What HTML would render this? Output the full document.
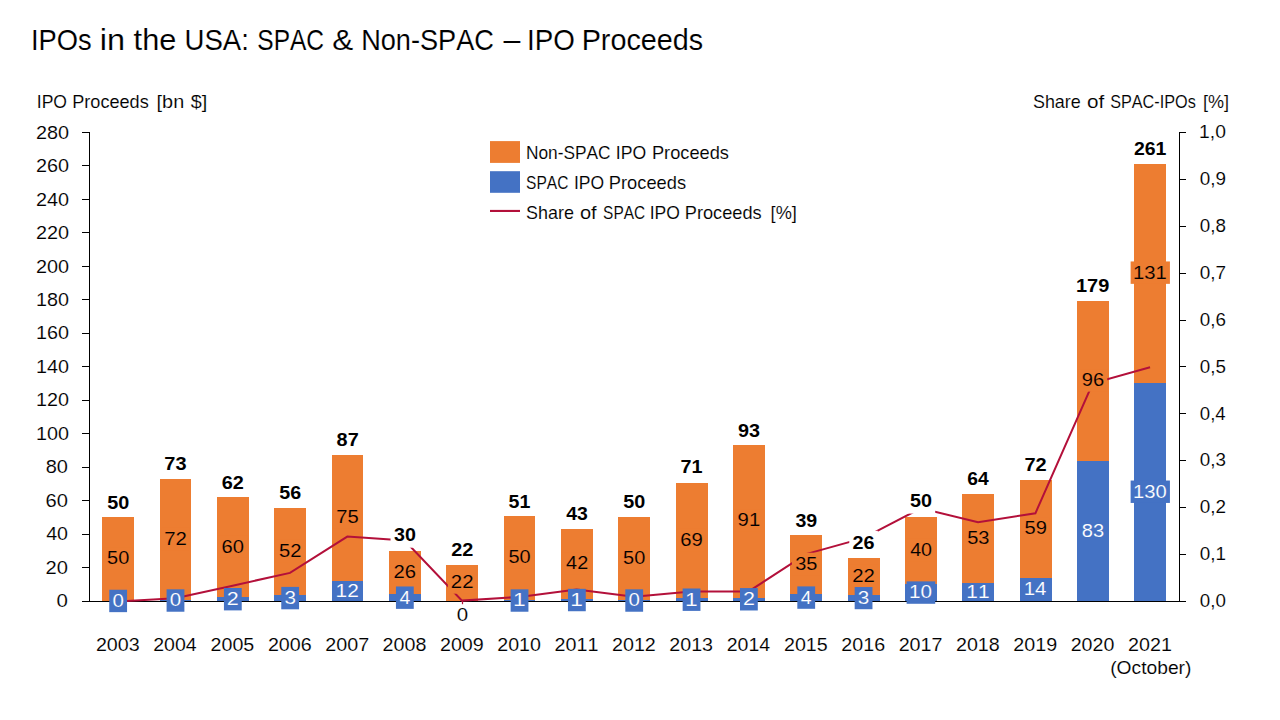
<!DOCTYPE html><html><head><meta charset="utf-8"><style>html,body{margin:0;padding:0;background:#fff;}svg{display:block;font-family:"Liberation Sans", sans-serif;font-kerning:none;}text{font-kerning:none;}</style></head><body>
<svg width="1280" height="720" viewBox="0 0 1280 720">
<rect x="0" y="0" width="1280" height="720" fill="#fff"/>
<text x="30.88" y="49.75" font-size="29.94" textLength="60.71" lengthAdjust="spacingAndGlyphs" fill="#000" stroke="#fff" stroke-width="0.12">IPOs</text>
<text x="99.73" y="49.75" font-size="29.94" textLength="25.28" lengthAdjust="spacingAndGlyphs" fill="#000" stroke="#fff" stroke-width="0.12">in</text>
<text x="133.63" y="49.75" font-size="29.94" textLength="42.73" lengthAdjust="spacingAndGlyphs" fill="#000" stroke="#fff" stroke-width="0.12">the</text>
<text x="184.47" y="49.75" font-size="29.94" textLength="64.34" lengthAdjust="spacingAndGlyphs" fill="#000" stroke="#fff" stroke-width="0.12">USA:</text>
<text x="257.29" y="49.75" font-size="29.94" textLength="66.75" lengthAdjust="spacingAndGlyphs" fill="#000" stroke="#fff" stroke-width="0.12">SPAC</text>
<text x="332.3" y="49.75" font-size="29.94" textLength="20.94" lengthAdjust="spacingAndGlyphs" fill="#000" stroke="#fff" stroke-width="0.12">&amp;</text>
<text x="361.17" y="49.75" font-size="29.94" textLength="132.76" lengthAdjust="spacingAndGlyphs" fill="#000" stroke="#fff" stroke-width="0.12">Non-SPAC</text>
<text x="503.4" y="49.75" font-size="29.94" textLength="16.86" lengthAdjust="spacingAndGlyphs" fill="#000" stroke="#fff" stroke-width="0.12">–</text>
<text x="527.04" y="49.75" font-size="29.94" textLength="47.79" lengthAdjust="spacingAndGlyphs" fill="#000" stroke="#fff" stroke-width="0.12">IPO</text>
<text x="581.64" y="49.75" font-size="29.94" textLength="121.5" lengthAdjust="spacingAndGlyphs" fill="#000" stroke="#fff" stroke-width="0.12">Proceeds</text>
<text x="36.78" y="107.8" font-size="18.18" textLength="30.26" lengthAdjust="spacingAndGlyphs" fill="#000" stroke="#fff" stroke-width="0.12">IPO</text>
<text x="72.21" y="107.8" font-size="18.18" textLength="76.54" lengthAdjust="spacingAndGlyphs" fill="#000" stroke="#fff" stroke-width="0.12">Proceeds</text>
<text x="156.58" y="107.8" font-size="18.18" textLength="27.61" lengthAdjust="spacingAndGlyphs" fill="#000" stroke="#fff" stroke-width="0.12">[bn</text>
<text x="190.79" y="107.8" font-size="18.18" textLength="16.53" lengthAdjust="spacingAndGlyphs" fill="#000" stroke="#fff" stroke-width="0.12">$]</text>
<text x="1032.94" y="107.7" font-size="18.33" textLength="47.86" lengthAdjust="spacingAndGlyphs" fill="#000" stroke="#fff" stroke-width="0.12">Share</text>
<text x="1086.93" y="107.7" font-size="18.33" textLength="17.24" lengthAdjust="spacingAndGlyphs" fill="#000" stroke="#fff" stroke-width="0.12">of</text>
<text x="1110.16" y="107.7" font-size="18.33" textLength="85.62" lengthAdjust="spacingAndGlyphs" fill="#000" stroke="#fff" stroke-width="0.12">SPAC-IPOs</text>
<text x="1202.91" y="107.7" font-size="18.33" textLength="26.07" lengthAdjust="spacingAndGlyphs" fill="#000" stroke="#fff" stroke-width="0.12">[%]</text>
<text x="56.6" y="607.25" font-size="18.33" textLength="11.4" lengthAdjust="spacingAndGlyphs" fill="#000" stroke="#fff" stroke-width="0.12">0</text>
<text x="45.59" y="573.78" font-size="18.33" textLength="22.4" lengthAdjust="spacingAndGlyphs" fill="#000" stroke="#fff" stroke-width="0.12">20</text>
<text x="46.15" y="540.31" font-size="18.33" textLength="21.82" lengthAdjust="spacingAndGlyphs" fill="#000" stroke="#fff" stroke-width="0.12">40</text>
<text x="45.58" y="506.84" font-size="18.33" textLength="22.41" lengthAdjust="spacingAndGlyphs" fill="#000" stroke="#fff" stroke-width="0.12">60</text>
<text x="45.73" y="473.36" font-size="18.33" textLength="22.25" lengthAdjust="spacingAndGlyphs" fill="#000" stroke="#fff" stroke-width="0.12">80</text>
<text x="36.09" y="439.89" font-size="18.33" textLength="32.98" lengthAdjust="spacingAndGlyphs" fill="#000" stroke="#fff" stroke-width="0.12">100</text>
<text x="36.09" y="406.42" font-size="18.33" textLength="32.98" lengthAdjust="spacingAndGlyphs" fill="#000" stroke="#fff" stroke-width="0.12">120</text>
<text x="36.09" y="372.95" font-size="18.33" textLength="32.98" lengthAdjust="spacingAndGlyphs" fill="#000" stroke="#fff" stroke-width="0.12">140</text>
<text x="36.09" y="339.48" font-size="18.33" textLength="32.98" lengthAdjust="spacingAndGlyphs" fill="#000" stroke="#fff" stroke-width="0.12">160</text>
<text x="36.09" y="306.01" font-size="18.33" textLength="32.98" lengthAdjust="spacingAndGlyphs" fill="#000" stroke="#fff" stroke-width="0.12">180</text>
<text x="36" y="272.54" font-size="18.33" textLength="33.07" lengthAdjust="spacingAndGlyphs" fill="#000" stroke="#fff" stroke-width="0.12">200</text>
<text x="36" y="239.06" font-size="18.33" textLength="33.07" lengthAdjust="spacingAndGlyphs" fill="#000" stroke="#fff" stroke-width="0.12">220</text>
<text x="36" y="205.59" font-size="18.33" textLength="33.07" lengthAdjust="spacingAndGlyphs" fill="#000" stroke="#fff" stroke-width="0.12">240</text>
<text x="36" y="172.12" font-size="18.33" textLength="33.07" lengthAdjust="spacingAndGlyphs" fill="#000" stroke="#fff" stroke-width="0.12">260</text>
<text x="36" y="138.65" font-size="18.33" textLength="33.07" lengthAdjust="spacingAndGlyphs" fill="#000" stroke="#fff" stroke-width="0.12">280</text>
<text x="1199.87" y="607" font-size="18.76" textLength="26.06" lengthAdjust="spacingAndGlyphs" fill="#000" stroke="#fff" stroke-width="0.12">0,0</text>
<text x="1199.86" y="560.14" font-size="18.76" textLength="26.26" lengthAdjust="spacingAndGlyphs" fill="#000" stroke="#fff" stroke-width="0.12">0,1</text>
<text x="1199.86" y="513.28" font-size="18.76" textLength="26.29" lengthAdjust="spacingAndGlyphs" fill="#000" stroke="#fff" stroke-width="0.12">0,2</text>
<text x="1199.86" y="466.42" font-size="18.76" textLength="26.16" lengthAdjust="spacingAndGlyphs" fill="#000" stroke="#fff" stroke-width="0.12">0,3</text>
<text x="1199.87" y="419.56" font-size="18.76" textLength="25.87" lengthAdjust="spacingAndGlyphs" fill="#000" stroke="#fff" stroke-width="0.12">0,4</text>
<text x="1199.87" y="372.7" font-size="18.76" textLength="26.12" lengthAdjust="spacingAndGlyphs" fill="#000" stroke="#fff" stroke-width="0.12">0,5</text>
<text x="1199.86" y="325.84" font-size="18.76" textLength="26.16" lengthAdjust="spacingAndGlyphs" fill="#000" stroke="#fff" stroke-width="0.12">0,6</text>
<text x="1199.86" y="278.98" font-size="18.76" textLength="26.29" lengthAdjust="spacingAndGlyphs" fill="#000" stroke="#fff" stroke-width="0.12">0,7</text>
<text x="1199.87" y="232.12" font-size="18.76" textLength="26.15" lengthAdjust="spacingAndGlyphs" fill="#000" stroke="#fff" stroke-width="0.12">0,8</text>
<text x="1199.86" y="185.26" font-size="18.76" textLength="26.23" lengthAdjust="spacingAndGlyphs" fill="#000" stroke="#fff" stroke-width="0.12">0,9</text>
<text x="1199.13" y="138.4" font-size="18.76" textLength="26.82" lengthAdjust="spacingAndGlyphs" fill="#000" stroke="#fff" stroke-width="0.12">1,0</text>
<text x="95.91" y="650.8" font-size="18.61" textLength="43.75" lengthAdjust="spacingAndGlyphs" fill="#000" stroke="#fff" stroke-width="0.12">2003</text>
<text x="153.26" y="650.8" font-size="18.61" textLength="43.45" lengthAdjust="spacingAndGlyphs" fill="#000" stroke="#fff" stroke-width="0.12">2004</text>
<text x="210.59" y="650.8" font-size="18.61" textLength="43.71" lengthAdjust="spacingAndGlyphs" fill="#000" stroke="#fff" stroke-width="0.12">2005</text>
<text x="267.93" y="650.8" font-size="18.61" textLength="43.75" lengthAdjust="spacingAndGlyphs" fill="#000" stroke="#fff" stroke-width="0.12">2006</text>
<text x="325.27" y="650.8" font-size="18.61" textLength="43.88" lengthAdjust="spacingAndGlyphs" fill="#000" stroke="#fff" stroke-width="0.12">2007</text>
<text x="382.61" y="650.8" font-size="18.61" textLength="43.74" lengthAdjust="spacingAndGlyphs" fill="#000" stroke="#fff" stroke-width="0.12">2008</text>
<text x="439.95" y="650.8" font-size="18.61" textLength="43.82" lengthAdjust="spacingAndGlyphs" fill="#000" stroke="#fff" stroke-width="0.12">2009</text>
<text x="497.29" y="650.8" font-size="18.61" textLength="43.65" lengthAdjust="spacingAndGlyphs" fill="#000" stroke="#fff" stroke-width="0.12">2010</text>
<text x="554.63" y="650.8" font-size="18.61" textLength="43.85" lengthAdjust="spacingAndGlyphs" fill="#000" stroke="#fff" stroke-width="0.12">2011</text>
<text x="611.97" y="650.8" font-size="18.61" textLength="43.88" lengthAdjust="spacingAndGlyphs" fill="#000" stroke="#fff" stroke-width="0.12">2012</text>
<text x="669.31" y="650.8" font-size="18.61" textLength="43.75" lengthAdjust="spacingAndGlyphs" fill="#000" stroke="#fff" stroke-width="0.12">2013</text>
<text x="726.66" y="650.8" font-size="18.61" textLength="43.45" lengthAdjust="spacingAndGlyphs" fill="#000" stroke="#fff" stroke-width="0.12">2014</text>
<text x="783.99" y="650.8" font-size="18.61" textLength="43.71" lengthAdjust="spacingAndGlyphs" fill="#000" stroke="#fff" stroke-width="0.12">2015</text>
<text x="841.33" y="650.8" font-size="18.61" textLength="43.75" lengthAdjust="spacingAndGlyphs" fill="#000" stroke="#fff" stroke-width="0.12">2016</text>
<text x="898.67" y="650.8" font-size="18.61" textLength="43.88" lengthAdjust="spacingAndGlyphs" fill="#000" stroke="#fff" stroke-width="0.12">2017</text>
<text x="956.01" y="650.8" font-size="18.61" textLength="43.74" lengthAdjust="spacingAndGlyphs" fill="#000" stroke="#fff" stroke-width="0.12">2018</text>
<text x="1013.35" y="650.8" font-size="18.61" textLength="43.82" lengthAdjust="spacingAndGlyphs" fill="#000" stroke="#fff" stroke-width="0.12">2019</text>
<text x="1070.69" y="650.8" font-size="18.61" textLength="43.65" lengthAdjust="spacingAndGlyphs" fill="#000" stroke="#fff" stroke-width="0.12">2020</text>
<text x="1128.03" y="650.8" font-size="18.61" textLength="43.85" lengthAdjust="spacingAndGlyphs" fill="#000" stroke="#fff" stroke-width="0.12">2021</text>
<text x="1110.21" y="673.7" font-size="18.47" textLength="81.18" lengthAdjust="spacingAndGlyphs" fill="#000" stroke="#fff" stroke-width="0.12">(October)</text>
<rect x="102" y="517" width="32" height="84" fill="#ED7D31"/>
<rect x="160" y="479" width="31" height="121" fill="#ED7D31"/>
<rect x="160" y="600" width="31" height="1" fill="#4472C4"/>
<rect x="217" y="497" width="32" height="100" fill="#ED7D31"/>
<rect x="217" y="597" width="32" height="4" fill="#4472C4"/>
<rect x="274" y="508" width="32" height="87" fill="#ED7D31"/>
<rect x="274" y="595" width="32" height="6" fill="#4472C4"/>
<rect x="332" y="455" width="31" height="126" fill="#ED7D31"/>
<rect x="332" y="581" width="31" height="20" fill="#4472C4"/>
<rect x="389" y="551" width="32" height="43" fill="#ED7D31"/>
<rect x="389" y="594" width="32" height="7" fill="#4472C4"/>
<rect x="446" y="565" width="32" height="36" fill="#ED7D31"/>
<rect x="504" y="516" width="31" height="84" fill="#ED7D31"/>
<rect x="504" y="600" width="31" height="1" fill="#4472C4"/>
<rect x="561" y="529" width="32" height="70" fill="#ED7D31"/>
<rect x="561" y="599" width="32" height="2" fill="#4472C4"/>
<rect x="618" y="517" width="32" height="83" fill="#ED7D31"/>
<rect x="618" y="600" width="32" height="1" fill="#4472C4"/>
<rect x="676" y="483" width="32" height="115" fill="#ED7D31"/>
<rect x="676" y="598" width="32" height="3" fill="#4472C4"/>
<rect x="733" y="445" width="32" height="153" fill="#ED7D31"/>
<rect x="733" y="598" width="32" height="3" fill="#4472C4"/>
<rect x="790" y="535" width="32" height="59" fill="#ED7D31"/>
<rect x="790" y="594" width="32" height="7" fill="#4472C4"/>
<rect x="848" y="558" width="32" height="37" fill="#ED7D31"/>
<rect x="848" y="595" width="32" height="6" fill="#4472C4"/>
<rect x="905" y="517" width="32" height="67" fill="#ED7D31"/>
<rect x="905" y="584" width="32" height="17" fill="#4472C4"/>
<rect x="962" y="494" width="32" height="89" fill="#ED7D31"/>
<rect x="962" y="583" width="32" height="18" fill="#4472C4"/>
<rect x="1020" y="480" width="32" height="98" fill="#ED7D31"/>
<rect x="1020" y="578" width="32" height="23" fill="#4472C4"/>
<rect x="1077" y="301" width="32" height="160" fill="#ED7D31"/>
<rect x="1077" y="461" width="32" height="140" fill="#4472C4"/>
<rect x="1134" y="164" width="32" height="219" fill="#ED7D31"/>
<rect x="1134" y="383" width="32" height="218" fill="#4472C4"/>
<rect x="89" y="132" width="1" height="470" fill="#000"/>
<rect x="1179" y="132" width="1" height="470" fill="#000"/>
<rect x="82" y="601" width="1104" height="1" fill="#000"/>
<rect x="82" y="132" width="7" height="1" fill="#000"/>
<rect x="82" y="165" width="7" height="1" fill="#000"/>
<rect x="82" y="199" width="7" height="1" fill="#000"/>
<rect x="82" y="232" width="7" height="1" fill="#000"/>
<rect x="82" y="266" width="7" height="1" fill="#000"/>
<rect x="82" y="299" width="7" height="1" fill="#000"/>
<rect x="82" y="333" width="7" height="1" fill="#000"/>
<rect x="82" y="366" width="7" height="1" fill="#000"/>
<rect x="82" y="400" width="7" height="1" fill="#000"/>
<rect x="82" y="433" width="7" height="1" fill="#000"/>
<rect x="82" y="467" width="7" height="1" fill="#000"/>
<rect x="82" y="500" width="7" height="1" fill="#000"/>
<rect x="82" y="534" width="7" height="1" fill="#000"/>
<rect x="82" y="567" width="7" height="1" fill="#000"/>
<rect x="82" y="601" width="7" height="1" fill="#000"/>
<rect x="1180" y="132" width="6" height="1" fill="#000"/>
<rect x="1180" y="179" width="6" height="1" fill="#000"/>
<rect x="1180" y="226" width="6" height="1" fill="#000"/>
<rect x="1180" y="273" width="6" height="1" fill="#000"/>
<rect x="1180" y="320" width="6" height="1" fill="#000"/>
<rect x="1180" y="366" width="6" height="1" fill="#000"/>
<rect x="1180" y="413" width="6" height="1" fill="#000"/>
<rect x="1180" y="460" width="6" height="1" fill="#000"/>
<rect x="1180" y="507" width="6" height="1" fill="#000"/>
<rect x="1180" y="554" width="6" height="1" fill="#000"/>
<rect x="1180" y="601" width="6" height="1" fill="#000"/>
<polyline points="117.95,601.5 175.29,598.28 232.63,585.67 289.97,572.87 347.31,536.57 404.65,540.53 461.99,600.62 519.33,596.89 576.67,589.53 634.01,596.84 691.35,591.54 748.69,591.46 806.03,554.13 863.37,538.12 920.71,508.26 978.05,522.23 1035.39,513.28 1092.73,383.35 1150.07,367.18" fill="none" stroke="#B3103A" stroke-width="2.0" stroke-linejoin="miter" stroke-miterlimit="10"/>
<rect x="461.9" y="601" width="1.2" height="3.2" fill="#B3103A"/>
<rect x="109.25" y="589.75" width="17.8" height="22.4" fill="#4472C4"/>
<text x="112.45" y="606.85" font-size="18.33" textLength="11.4" lengthAdjust="spacingAndGlyphs" fill="#fff" stroke="#4472C4" stroke-width="0.12">0</text>
<rect x="103.85" y="547.21" width="28.6" height="22.4" fill="#ED7D31"/>
<text x="107.05" y="564.31" font-size="18.33" textLength="22.18" lengthAdjust="spacingAndGlyphs" fill="#000" stroke="#ED7D31" stroke-width="0.12">50</text>
<rect x="103.85" y="490.8" width="28.6" height="24.1" fill="#fff"/>
<text x="107.24" y="508.6" font-size="18.76" textLength="22.02" lengthAdjust="spacingAndGlyphs" font-weight="bold" fill="#000">50</text>
<rect x="166.59" y="589.33" width="17.8" height="22.4" fill="#4472C4"/>
<text x="169.79" y="606.43" font-size="18.33" textLength="11.4" lengthAdjust="spacingAndGlyphs" fill="#fff" stroke="#4472C4" stroke-width="0.12">0</text>
<rect x="161.19" y="527.78" width="28.6" height="22.4" fill="#ED7D31"/>
<text x="164.15" y="544.88" font-size="18.33" textLength="22.67" lengthAdjust="spacingAndGlyphs" fill="#000" stroke="#ED7D31" stroke-width="0.12">72</text>
<rect x="161.19" y="451.9" width="28.6" height="24.1" fill="#fff"/>
<text x="164.33" y="469.7" font-size="18.76" textLength="22.18" lengthAdjust="spacingAndGlyphs" font-weight="bold" fill="#000">73</text>
<rect x="223.93" y="587.99" width="17.8" height="22.4" fill="#4472C4"/>
<text x="226.85" y="605.09" font-size="18.33" textLength="11.96" lengthAdjust="spacingAndGlyphs" fill="#fff" stroke="#4472C4" stroke-width="0.12">2</text>
<rect x="218.53" y="535.4" width="28.6" height="22.4" fill="#ED7D31"/>
<text x="221.51" y="552.5" font-size="18.33" textLength="22.41" lengthAdjust="spacingAndGlyphs" fill="#000" stroke="#ED7D31" stroke-width="0.12">60</text>
<rect x="218.53" y="470.7" width="28.6" height="24.1" fill="#fff"/>
<text x="221.8" y="488.5" font-size="18.76" textLength="22.12" lengthAdjust="spacingAndGlyphs" font-weight="bold" fill="#000">62</text>
<rect x="281.27" y="586.9" width="17.8" height="22.4" fill="#4472C4"/>
<text x="284.48" y="604" font-size="18.33" textLength="11.5" lengthAdjust="spacingAndGlyphs" fill="#fff" stroke="#4472C4" stroke-width="0.12">3</text>
<rect x="275.87" y="539.75" width="28.6" height="22.4" fill="#ED7D31"/>
<text x="279.06" y="556.85" font-size="18.33" textLength="22.42" lengthAdjust="spacingAndGlyphs" fill="#000" stroke="#ED7D31" stroke-width="0.12">52</text>
<rect x="275.87" y="481" width="28.6" height="24.1" fill="#fff"/>
<text x="279.26" y="498.8" font-size="18.76" textLength="21.92" lengthAdjust="spacingAndGlyphs" font-weight="bold" fill="#000">56</text>
<text x="335.62" y="596.72" font-size="18.33" textLength="23.24" lengthAdjust="spacingAndGlyphs" fill="#fff" stroke="#4472C4" stroke-width="0.12">12</text>
<rect x="333.21" y="505.92" width="28.6" height="22.4" fill="#ED7D31"/>
<text x="336.17" y="523.02" font-size="18.33" textLength="22.49" lengthAdjust="spacingAndGlyphs" fill="#000" stroke="#ED7D31" stroke-width="0.12">75</text>
<rect x="333.21" y="427.8" width="28.6" height="24.1" fill="#fff"/>
<text x="336.58" y="445.6" font-size="18.76" textLength="22.1" lengthAdjust="spacingAndGlyphs" font-weight="bold" fill="#000">87</text>
<rect x="395.95" y="586.48" width="17.8" height="22.4" fill="#4472C4"/>
<text x="399.5" y="603.58" font-size="18.33" textLength="10.82" lengthAdjust="spacingAndGlyphs" fill="#fff" stroke="#4472C4" stroke-width="0.12">4</text>
<rect x="390.55" y="560.86" width="28.6" height="22.4" fill="#ED7D31"/>
<text x="393.53" y="577.96" font-size="18.33" textLength="22.51" lengthAdjust="spacingAndGlyphs" fill="#000" stroke="#ED7D31" stroke-width="0.12">26</text>
<rect x="390.55" y="523.6" width="28.6" height="24.1" fill="#fff"/>
<text x="394.1" y="541.4" font-size="18.76" textLength="21.86" lengthAdjust="spacingAndGlyphs" font-weight="bold" fill="#000">30</text>
<text x="456.79" y="620.85" font-size="18.33" textLength="11.4" lengthAdjust="spacingAndGlyphs" fill="#000" stroke="#fff" stroke-width="0.12">0</text>
<rect x="447.89" y="571.29" width="28.6" height="22.4" fill="#ED7D31"/>
<text x="450.87" y="588.39" font-size="18.33" textLength="22.65" lengthAdjust="spacingAndGlyphs" fill="#000" stroke="#ED7D31" stroke-width="0.12">22</text>
<rect x="447.89" y="538.3" width="28.6" height="24.1" fill="#fff"/>
<text x="451.2" y="556.1" font-size="18.76" textLength="22.08" lengthAdjust="spacingAndGlyphs" font-weight="bold" fill="#000">22</text>
<rect x="510.63" y="589.33" width="17.8" height="22.4" fill="#4472C4"/>
<text x="512.9" y="606.43" font-size="18.33" textLength="12.64" lengthAdjust="spacingAndGlyphs" fill="#fff" stroke="#4472C4" stroke-width="0.12">1</text>
<rect x="505.23" y="546.2" width="28.6" height="22.4" fill="#ED7D31"/>
<text x="508.43" y="563.3" font-size="18.33" textLength="22.18" lengthAdjust="spacingAndGlyphs" fill="#000" stroke="#ED7D31" stroke-width="0.12">50</text>
<rect x="505.23" y="490.2" width="28.6" height="24.1" fill="#fff"/>
<text x="508.63" y="508" font-size="18.76" textLength="21.75" lengthAdjust="spacingAndGlyphs" font-weight="bold" fill="#000">51</text>
<rect x="567.97" y="588.83" width="17.8" height="22.4" fill="#4472C4"/>
<text x="570.24" y="605.93" font-size="18.33" textLength="12.64" lengthAdjust="spacingAndGlyphs" fill="#fff" stroke="#4472C4" stroke-width="0.12">1</text>
<rect x="562.57" y="552.23" width="28.6" height="22.4" fill="#ED7D31"/>
<text x="566.12" y="569.33" font-size="18.33" textLength="22.05" lengthAdjust="spacingAndGlyphs" fill="#000" stroke="#ED7D31" stroke-width="0.12">42</text>
<rect x="562.57" y="502.2" width="28.6" height="24.1" fill="#fff"/>
<text x="566.28" y="520" font-size="18.76" textLength="21.6" lengthAdjust="spacingAndGlyphs" font-weight="bold" fill="#000">43</text>
<rect x="625.31" y="589.33" width="17.8" height="22.4" fill="#4472C4"/>
<text x="628.51" y="606.43" font-size="18.33" textLength="11.4" lengthAdjust="spacingAndGlyphs" fill="#fff" stroke="#4472C4" stroke-width="0.12">0</text>
<rect x="619.91" y="546.7" width="28.6" height="22.4" fill="#ED7D31"/>
<text x="623.11" y="563.8" font-size="18.33" textLength="22.18" lengthAdjust="spacingAndGlyphs" fill="#000" stroke="#ED7D31" stroke-width="0.12">50</text>
<rect x="619.91" y="490.2" width="28.6" height="24.1" fill="#fff"/>
<text x="623.3" y="508" font-size="18.76" textLength="22.02" lengthAdjust="spacingAndGlyphs" font-weight="bold" fill="#000">50</text>
<rect x="682.65" y="588.49" width="17.8" height="22.4" fill="#4472C4"/>
<text x="684.92" y="605.59" font-size="18.33" textLength="12.64" lengthAdjust="spacingAndGlyphs" fill="#fff" stroke="#4472C4" stroke-width="0.12">1</text>
<rect x="677.25" y="528.87" width="28.6" height="22.4" fill="#ED7D31"/>
<text x="680.22" y="545.97" font-size="18.33" textLength="22.59" lengthAdjust="spacingAndGlyphs" fill="#000" stroke="#ED7D31" stroke-width="0.12">69</text>
<rect x="677.25" y="455.6" width="28.6" height="24.1" fill="#fff"/>
<text x="680.4" y="473.4" font-size="18.76" textLength="22" lengthAdjust="spacingAndGlyphs" font-weight="bold" fill="#000">71</text>
<rect x="739.99" y="588.08" width="17.8" height="22.4" fill="#4472C4"/>
<text x="742.91" y="605.18" font-size="18.33" textLength="11.96" lengthAdjust="spacingAndGlyphs" fill="#fff" stroke="#4472C4" stroke-width="0.12">2</text>
<rect x="734.59" y="509.35" width="28.6" height="22.4" fill="#ED7D31"/>
<text x="737.64" y="526.45" font-size="18.33" textLength="22.54" lengthAdjust="spacingAndGlyphs" fill="#000" stroke="#ED7D31" stroke-width="0.12">91</text>
<rect x="734.59" y="419.1" width="28.6" height="24.1" fill="#fff"/>
<text x="737.9" y="436.9" font-size="18.76" textLength="22" lengthAdjust="spacingAndGlyphs" font-weight="bold" fill="#000">93</text>
<rect x="797.33" y="586.4" width="17.8" height="22.4" fill="#4472C4"/>
<text x="800.88" y="603.5" font-size="18.33" textLength="10.82" lengthAdjust="spacingAndGlyphs" fill="#fff" stroke="#4472C4" stroke-width="0.12">4</text>
<rect x="791.93" y="552.73" width="28.6" height="22.4" fill="#ED7D31"/>
<text x="795.17" y="569.83" font-size="18.33" textLength="22.2" lengthAdjust="spacingAndGlyphs" fill="#000" stroke="#ED7D31" stroke-width="0.12">35</text>
<rect x="791.93" y="508.8" width="28.6" height="24.1" fill="#fff"/>
<text x="795.48" y="526.6" font-size="18.76" textLength="21.78" lengthAdjust="spacingAndGlyphs" font-weight="bold" fill="#000">39</text>
<rect x="854.67" y="586.82" width="17.8" height="22.4" fill="#4472C4"/>
<text x="857.88" y="603.92" font-size="18.33" textLength="11.5" lengthAdjust="spacingAndGlyphs" fill="#fff" stroke="#4472C4" stroke-width="0.12">3</text>
<rect x="849.27" y="564.63" width="28.6" height="22.4" fill="#ED7D31"/>
<text x="852.25" y="581.73" font-size="18.33" textLength="22.65" lengthAdjust="spacingAndGlyphs" fill="#000" stroke="#ED7D31" stroke-width="0.12">22</text>
<rect x="849.27" y="530.8" width="28.6" height="24.1" fill="#fff"/>
<text x="852.58" y="548.6" font-size="18.76" textLength="22" lengthAdjust="spacingAndGlyphs" font-weight="bold" fill="#000">26</text>
<rect x="906.61" y="581.38" width="28.6" height="22.4" fill="#4472C4"/>
<text x="909.04" y="598.48" font-size="18.33" textLength="22.98" lengthAdjust="spacingAndGlyphs" fill="#fff" stroke="#4472C4" stroke-width="0.12">10</text>
<rect x="906.61" y="538.75" width="28.6" height="22.4" fill="#ED7D31"/>
<text x="910.16" y="555.85" font-size="18.33" textLength="21.82" lengthAdjust="spacingAndGlyphs" fill="#000" stroke="#ED7D31" stroke-width="0.12">40</text>
<rect x="906.61" y="489.5" width="28.6" height="24.1" fill="#fff"/>
<text x="910" y="507.3" font-size="18.76" textLength="22.02" lengthAdjust="spacingAndGlyphs" font-weight="bold" fill="#000">50</text>
<text x="966.36" y="597.8" font-size="18.33" textLength="23.21" lengthAdjust="spacingAndGlyphs" fill="#fff" stroke="#4472C4" stroke-width="0.12">11</text>
<rect x="963.95" y="526.69" width="28.6" height="22.4" fill="#ED7D31"/>
<text x="967.15" y="543.79" font-size="18.33" textLength="22.28" lengthAdjust="spacingAndGlyphs" fill="#000" stroke="#ED7D31" stroke-width="0.12">53</text>
<rect x="963.95" y="467.1" width="28.6" height="24.1" fill="#fff"/>
<text x="967.25" y="484.9" font-size="18.76" textLength="21.41" lengthAdjust="spacingAndGlyphs" font-weight="bold" fill="#000">64</text>
<text x="1023.73" y="595.46" font-size="18.33" textLength="22.76" lengthAdjust="spacingAndGlyphs" fill="#fff" stroke="#4472C4" stroke-width="0.12">14</text>
<rect x="1021.29" y="517.31" width="28.6" height="22.4" fill="#ED7D31"/>
<text x="1024.49" y="534.41" font-size="18.33" textLength="22.36" lengthAdjust="spacingAndGlyphs" fill="#000" stroke="#ED7D31" stroke-width="0.12">59</text>
<rect x="1021.29" y="453.3" width="28.6" height="24.1" fill="#fff"/>
<text x="1024.43" y="471.1" font-size="18.76" textLength="22.26" lengthAdjust="spacingAndGlyphs" font-weight="bold" fill="#000">72</text>
<text x="1081.76" y="537" font-size="18.33" textLength="22.36" lengthAdjust="spacingAndGlyphs" fill="#fff" stroke="#4472C4" stroke-width="0.12">83</text>
<rect x="1078.63" y="369.24" width="28.6" height="22.4" fill="#ED7D31"/>
<text x="1081.68" y="386.34" font-size="18.33" textLength="22.43" lengthAdjust="spacingAndGlyphs" fill="#000" stroke="#ED7D31" stroke-width="0.12">96</text>
<rect x="1073.28" y="273.95" width="39.3" height="24.1" fill="#fff"/>
<text x="1076.02" y="291.75" font-size="18.76" textLength="33.3" lengthAdjust="spacingAndGlyphs" font-weight="bold" fill="#000">179</text>
<rect x="1130.62" y="480.54" width="39.3" height="22.4" fill="#4472C4"/>
<text x="1133.09" y="497.64" font-size="18.33" textLength="33.62" lengthAdjust="spacingAndGlyphs" fill="#fff" stroke="#4472C4" stroke-width="0.12">130</text>
<rect x="1130.62" y="261.45" width="39.3" height="22.4" fill="#ED7D31"/>
<text x="1133.08" y="278.55" font-size="18.33" textLength="33.83" lengthAdjust="spacingAndGlyphs" fill="#000" stroke="#ED7D31" stroke-width="0.12">131</text>
<rect x="1130.62" y="136.7" width="39.3" height="24.1" fill="#fff"/>
<text x="1133.94" y="154.5" font-size="18.76" textLength="32.52" lengthAdjust="spacingAndGlyphs" font-weight="bold" fill="#000">261</text>
<rect x="490" y="141.1" width="30" height="21.8" fill="#ED7D31"/>
<rect x="490" y="171.2" width="30" height="21.6" fill="#4472C4"/>
<rect x="490" y="209.9" width="30" height="2.1" fill="#B3103A"/>
<text x="525.88" y="159.2" font-size="19.05" textLength="84.68" lengthAdjust="spacingAndGlyphs" fill="#000" stroke="#fff" stroke-width="0.12">Non-SPAC</text>
<text x="615.77" y="159.2" font-size="19.05" textLength="30.37" lengthAdjust="spacingAndGlyphs" fill="#000" stroke="#fff" stroke-width="0.12">IPO</text>
<text x="651.9" y="159.2" font-size="19.05" textLength="77.06" lengthAdjust="spacingAndGlyphs" fill="#000" stroke="#fff" stroke-width="0.12">Proceeds</text>
<text x="526.09" y="189" font-size="19.05" textLength="42.3" lengthAdjust="spacingAndGlyphs" fill="#000" stroke="#fff" stroke-width="0.12">SPAC</text>
<text x="573.88" y="189" font-size="19.05" textLength="30.15" lengthAdjust="spacingAndGlyphs" fill="#000" stroke="#fff" stroke-width="0.12">IPO</text>
<text x="608.8" y="189" font-size="19.05" textLength="77.26" lengthAdjust="spacingAndGlyphs" fill="#000" stroke="#fff" stroke-width="0.12">Proceeds</text>
<text x="525.98" y="218.9" font-size="19.05" textLength="47.91" lengthAdjust="spacingAndGlyphs" fill="#000" stroke="#fff" stroke-width="0.12">Share</text>
<text x="579.96" y="218.9" font-size="19.05" textLength="16.71" lengthAdjust="spacingAndGlyphs" fill="#000" stroke="#fff" stroke-width="0.12">of</text>
<text x="603.1" y="218.9" font-size="19.05" textLength="41.99" lengthAdjust="spacingAndGlyphs" fill="#000" stroke="#fff" stroke-width="0.12">SPAC</text>
<text x="649.63" y="218.9" font-size="19.05" textLength="30.21" lengthAdjust="spacingAndGlyphs" fill="#000" stroke="#fff" stroke-width="0.12">IPO</text>
<text x="684.76" y="218.9" font-size="19.05" textLength="76.9" lengthAdjust="spacingAndGlyphs" fill="#000" stroke="#fff" stroke-width="0.12">Proceeds</text>
<text x="770.6" y="218.9" font-size="19.05" textLength="26.29" lengthAdjust="spacingAndGlyphs" fill="#000" stroke="#fff" stroke-width="0.12">[%]</text>
</svg></body></html>
